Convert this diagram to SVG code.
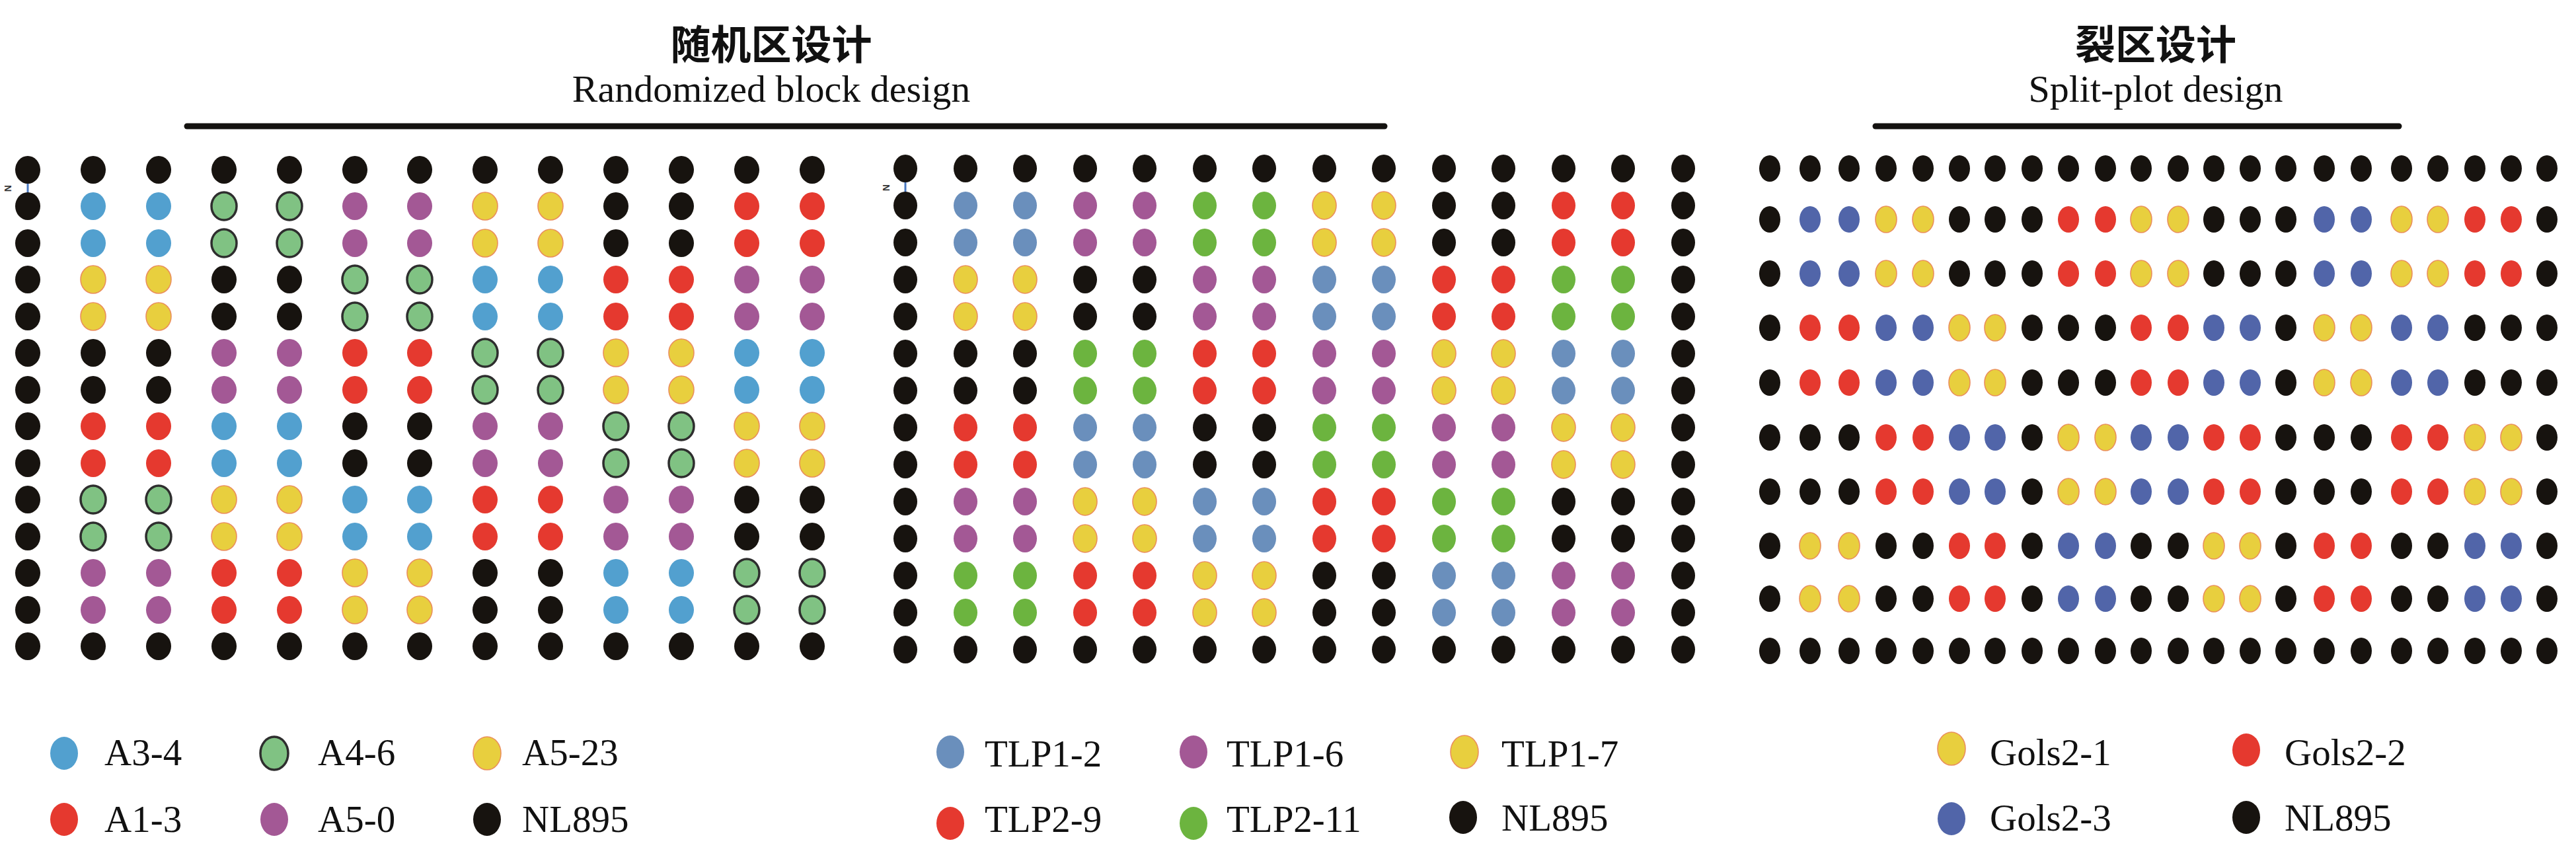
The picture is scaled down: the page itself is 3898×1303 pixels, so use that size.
<svg xmlns="http://www.w3.org/2000/svg" width="3898" height="1303" viewBox="0 0 3898 1303">
<style>
.k{fill:#17130f}
.b{fill:#52a0cf}
.g{fill:#80c283;stroke:#2e2e2e;stroke-width:3.5}
.y{fill:#e8cf3e;stroke:#ea8f5c;stroke-width:1.6}
.r{fill:#e5392f}
.p{fill:#a35895}
.s{fill:#6a8fbc}
.lg{fill:#6cb43f}
.u{fill:#5165a9}
#gridA ellipse{rx:19px;ry:21px}
#gridB ellipse{rx:18px;ry:21px}
#gridC ellipse{rx:16px;ry:20px}
.leg ellipse{rx:21px;ry:25px}
.zh{font-family:"Noto Sans CJK SC","Noto Sans CJK JP",sans-serif;font-size:61px;font-weight:bold;fill:#111;text-anchor:middle}
.en{font-family:"Liberation Serif","Times New Roman",serif;font-size:58px;fill:#111;text-anchor:middle}
.lt{font-family:"Liberation Serif","Times New Roman",serif;font-size:57px;fill:#111}
.bar{stroke:#141210;stroke-width:9;stroke-linecap:round}
.nl{stroke:#4a78c0;stroke-width:3}
.nt{font-family:"Liberation Sans",Arial,sans-serif;font-size:14px;font-weight:bold;fill:#333}
</style>

<g id="title-randomized">
<text class="zh" x="1167" y="90">随机区设计</text>
<text class="en" x="1167" y="154">Randomized block design</text>
<line class="bar" x1="283" y1="191" x2="2095" y2="191"/>
</g>
<g id="title-splitplot">
<text class="zh" x="3262" y="90">裂区设计</text>
<text class="en" x="3262" y="154">Split-plot design</text>
<line class="bar" x1="2838" y1="191" x2="3630" y2="191"/>
</g>

<g id="north-markers">
<line class="nl" x1="42" y1="276" x2="42" y2="292"/>
<text class="nt" x="0" y="0" transform="translate(7,280) rotate(90)">N</text>
<line class="nl" x1="1370" y1="275" x2="1370" y2="291"/>
<text class="nt" x="0" y="0" transform="translate(1336,279) rotate(90)">N</text>
</g>

<g id="gridA">
<ellipse class="k" cx="42" cy="257"/><ellipse class="k" cx="141" cy="257"/><ellipse class="k" cx="240" cy="257"/><ellipse class="k" cx="339" cy="257"/><ellipse class="k" cx="438" cy="257"/><ellipse class="k" cx="537" cy="257"/><ellipse class="k" cx="635" cy="257"/><ellipse class="k" cx="734" cy="257"/><ellipse class="k" cx="833" cy="257"/><ellipse class="k" cx="932" cy="257"/><ellipse class="k" cx="1031" cy="257"/><ellipse class="k" cx="1130" cy="257"/><ellipse class="k" cx="1229" cy="257"/>
<ellipse class="k" cx="42" cy="312"/><ellipse class="b" cx="141" cy="312"/><ellipse class="b" cx="240" cy="312"/><ellipse class="g" cx="339" cy="312"/><ellipse class="g" cx="438" cy="312"/><ellipse class="p" cx="537" cy="312"/><ellipse class="p" cx="635" cy="312"/><ellipse class="y" cx="734" cy="312"/><ellipse class="y" cx="833" cy="312"/><ellipse class="k" cx="932" cy="312"/><ellipse class="k" cx="1031" cy="312"/><ellipse class="r" cx="1130" cy="312"/><ellipse class="r" cx="1229" cy="312"/>
<ellipse class="k" cx="42" cy="368"/><ellipse class="b" cx="141" cy="368"/><ellipse class="b" cx="240" cy="368"/><ellipse class="g" cx="339" cy="368"/><ellipse class="g" cx="438" cy="368"/><ellipse class="p" cx="537" cy="368"/><ellipse class="p" cx="635" cy="368"/><ellipse class="y" cx="734" cy="368"/><ellipse class="y" cx="833" cy="368"/><ellipse class="k" cx="932" cy="368"/><ellipse class="k" cx="1031" cy="368"/><ellipse class="r" cx="1130" cy="368"/><ellipse class="r" cx="1229" cy="368"/>
<ellipse class="k" cx="42" cy="423"/><ellipse class="y" cx="141" cy="423"/><ellipse class="y" cx="240" cy="423"/><ellipse class="k" cx="339" cy="423"/><ellipse class="k" cx="438" cy="423"/><ellipse class="g" cx="537" cy="423"/><ellipse class="g" cx="635" cy="423"/><ellipse class="b" cx="734" cy="423"/><ellipse class="b" cx="833" cy="423"/><ellipse class="r" cx="932" cy="423"/><ellipse class="r" cx="1031" cy="423"/><ellipse class="p" cx="1130" cy="423"/><ellipse class="p" cx="1229" cy="423"/>
<ellipse class="k" cx="42" cy="479"/><ellipse class="y" cx="141" cy="479"/><ellipse class="y" cx="240" cy="479"/><ellipse class="k" cx="339" cy="479"/><ellipse class="k" cx="438" cy="479"/><ellipse class="g" cx="537" cy="479"/><ellipse class="g" cx="635" cy="479"/><ellipse class="b" cx="734" cy="479"/><ellipse class="b" cx="833" cy="479"/><ellipse class="r" cx="932" cy="479"/><ellipse class="r" cx="1031" cy="479"/><ellipse class="p" cx="1130" cy="479"/><ellipse class="p" cx="1229" cy="479"/>
<ellipse class="k" cx="42" cy="534"/><ellipse class="k" cx="141" cy="534"/><ellipse class="k" cx="240" cy="534"/><ellipse class="p" cx="339" cy="534"/><ellipse class="p" cx="438" cy="534"/><ellipse class="r" cx="537" cy="534"/><ellipse class="r" cx="635" cy="534"/><ellipse class="g" cx="734" cy="534"/><ellipse class="g" cx="833" cy="534"/><ellipse class="y" cx="932" cy="534"/><ellipse class="y" cx="1031" cy="534"/><ellipse class="b" cx="1130" cy="534"/><ellipse class="b" cx="1229" cy="534"/>
<ellipse class="k" cx="42" cy="590"/><ellipse class="k" cx="141" cy="590"/><ellipse class="k" cx="240" cy="590"/><ellipse class="p" cx="339" cy="590"/><ellipse class="p" cx="438" cy="590"/><ellipse class="r" cx="537" cy="590"/><ellipse class="r" cx="635" cy="590"/><ellipse class="g" cx="734" cy="590"/><ellipse class="g" cx="833" cy="590"/><ellipse class="y" cx="932" cy="590"/><ellipse class="y" cx="1031" cy="590"/><ellipse class="b" cx="1130" cy="590"/><ellipse class="b" cx="1229" cy="590"/>
<ellipse class="k" cx="42" cy="645"/><ellipse class="r" cx="141" cy="645"/><ellipse class="r" cx="240" cy="645"/><ellipse class="b" cx="339" cy="645"/><ellipse class="b" cx="438" cy="645"/><ellipse class="k" cx="537" cy="645"/><ellipse class="k" cx="635" cy="645"/><ellipse class="p" cx="734" cy="645"/><ellipse class="p" cx="833" cy="645"/><ellipse class="g" cx="932" cy="645"/><ellipse class="g" cx="1031" cy="645"/><ellipse class="y" cx="1130" cy="645"/><ellipse class="y" cx="1229" cy="645"/>
<ellipse class="k" cx="42" cy="701"/><ellipse class="r" cx="141" cy="701"/><ellipse class="r" cx="240" cy="701"/><ellipse class="b" cx="339" cy="701"/><ellipse class="b" cx="438" cy="701"/><ellipse class="k" cx="537" cy="701"/><ellipse class="k" cx="635" cy="701"/><ellipse class="p" cx="734" cy="701"/><ellipse class="p" cx="833" cy="701"/><ellipse class="g" cx="932" cy="701"/><ellipse class="g" cx="1031" cy="701"/><ellipse class="y" cx="1130" cy="701"/><ellipse class="y" cx="1229" cy="701"/>
<ellipse class="k" cx="42" cy="756"/><ellipse class="g" cx="141" cy="756"/><ellipse class="g" cx="240" cy="756"/><ellipse class="y" cx="339" cy="756"/><ellipse class="y" cx="438" cy="756"/><ellipse class="b" cx="537" cy="756"/><ellipse class="b" cx="635" cy="756"/><ellipse class="r" cx="734" cy="756"/><ellipse class="r" cx="833" cy="756"/><ellipse class="p" cx="932" cy="756"/><ellipse class="p" cx="1031" cy="756"/><ellipse class="k" cx="1130" cy="756"/><ellipse class="k" cx="1229" cy="756"/>
<ellipse class="k" cx="42" cy="812"/><ellipse class="g" cx="141" cy="812"/><ellipse class="g" cx="240" cy="812"/><ellipse class="y" cx="339" cy="812"/><ellipse class="y" cx="438" cy="812"/><ellipse class="b" cx="537" cy="812"/><ellipse class="b" cx="635" cy="812"/><ellipse class="r" cx="734" cy="812"/><ellipse class="r" cx="833" cy="812"/><ellipse class="p" cx="932" cy="812"/><ellipse class="p" cx="1031" cy="812"/><ellipse class="k" cx="1130" cy="812"/><ellipse class="k" cx="1229" cy="812"/>
<ellipse class="k" cx="42" cy="867"/><ellipse class="p" cx="141" cy="867"/><ellipse class="p" cx="240" cy="867"/><ellipse class="r" cx="339" cy="867"/><ellipse class="r" cx="438" cy="867"/><ellipse class="y" cx="537" cy="867"/><ellipse class="y" cx="635" cy="867"/><ellipse class="k" cx="734" cy="867"/><ellipse class="k" cx="833" cy="867"/><ellipse class="b" cx="932" cy="867"/><ellipse class="b" cx="1031" cy="867"/><ellipse class="g" cx="1130" cy="867"/><ellipse class="g" cx="1229" cy="867"/>
<ellipse class="k" cx="42" cy="923"/><ellipse class="p" cx="141" cy="923"/><ellipse class="p" cx="240" cy="923"/><ellipse class="r" cx="339" cy="923"/><ellipse class="r" cx="438" cy="923"/><ellipse class="y" cx="537" cy="923"/><ellipse class="y" cx="635" cy="923"/><ellipse class="k" cx="734" cy="923"/><ellipse class="k" cx="833" cy="923"/><ellipse class="b" cx="932" cy="923"/><ellipse class="b" cx="1031" cy="923"/><ellipse class="g" cx="1130" cy="923"/><ellipse class="g" cx="1229" cy="923"/>
<ellipse class="k" cx="42" cy="978"/><ellipse class="k" cx="141" cy="978"/><ellipse class="k" cx="240" cy="978"/><ellipse class="k" cx="339" cy="978"/><ellipse class="k" cx="438" cy="978"/><ellipse class="k" cx="537" cy="978"/><ellipse class="k" cx="635" cy="978"/><ellipse class="k" cx="734" cy="978"/><ellipse class="k" cx="833" cy="978"/><ellipse class="k" cx="932" cy="978"/><ellipse class="k" cx="1031" cy="978"/><ellipse class="k" cx="1130" cy="978"/><ellipse class="k" cx="1229" cy="978"/>
</g>

<g id="gridB">
<ellipse class="k" cx="1370" cy="255"/><ellipse class="k" cx="1461" cy="255"/><ellipse class="k" cx="1551" cy="255"/><ellipse class="k" cx="1642" cy="255"/><ellipse class="k" cx="1732" cy="255"/><ellipse class="k" cx="1823" cy="255"/><ellipse class="k" cx="1913" cy="255"/><ellipse class="k" cx="2004" cy="255"/><ellipse class="k" cx="2094" cy="255"/><ellipse class="k" cx="2185" cy="255"/><ellipse class="k" cx="2275" cy="255"/><ellipse class="k" cx="2366" cy="255"/><ellipse class="k" cx="2456" cy="255"/><ellipse class="k" cx="2547" cy="255"/>
<ellipse class="k" cx="1370" cy="311"/><ellipse class="s" cx="1461" cy="311"/><ellipse class="s" cx="1551" cy="311"/><ellipse class="p" cx="1642" cy="311"/><ellipse class="p" cx="1732" cy="311"/><ellipse class="lg" cx="1823" cy="311"/><ellipse class="lg" cx="1913" cy="311"/><ellipse class="y" cx="2004" cy="311"/><ellipse class="y" cx="2094" cy="311"/><ellipse class="k" cx="2185" cy="311"/><ellipse class="k" cx="2275" cy="311"/><ellipse class="r" cx="2366" cy="311"/><ellipse class="r" cx="2456" cy="311"/><ellipse class="k" cx="2547" cy="311"/>
<ellipse class="k" cx="1370" cy="367"/><ellipse class="s" cx="1461" cy="367"/><ellipse class="s" cx="1551" cy="367"/><ellipse class="p" cx="1642" cy="367"/><ellipse class="p" cx="1732" cy="367"/><ellipse class="lg" cx="1823" cy="367"/><ellipse class="lg" cx="1913" cy="367"/><ellipse class="y" cx="2004" cy="367"/><ellipse class="y" cx="2094" cy="367"/><ellipse class="k" cx="2185" cy="367"/><ellipse class="k" cx="2275" cy="367"/><ellipse class="r" cx="2366" cy="367"/><ellipse class="r" cx="2456" cy="367"/><ellipse class="k" cx="2547" cy="367"/>
<ellipse class="k" cx="1370" cy="423"/><ellipse class="y" cx="1461" cy="423"/><ellipse class="y" cx="1551" cy="423"/><ellipse class="k" cx="1642" cy="423"/><ellipse class="k" cx="1732" cy="423"/><ellipse class="p" cx="1823" cy="423"/><ellipse class="p" cx="1913" cy="423"/><ellipse class="s" cx="2004" cy="423"/><ellipse class="s" cx="2094" cy="423"/><ellipse class="r" cx="2185" cy="423"/><ellipse class="r" cx="2275" cy="423"/><ellipse class="lg" cx="2366" cy="423"/><ellipse class="lg" cx="2456" cy="423"/><ellipse class="k" cx="2547" cy="423"/>
<ellipse class="k" cx="1370" cy="479"/><ellipse class="y" cx="1461" cy="479"/><ellipse class="y" cx="1551" cy="479"/><ellipse class="k" cx="1642" cy="479"/><ellipse class="k" cx="1732" cy="479"/><ellipse class="p" cx="1823" cy="479"/><ellipse class="p" cx="1913" cy="479"/><ellipse class="s" cx="2004" cy="479"/><ellipse class="s" cx="2094" cy="479"/><ellipse class="r" cx="2185" cy="479"/><ellipse class="r" cx="2275" cy="479"/><ellipse class="lg" cx="2366" cy="479"/><ellipse class="lg" cx="2456" cy="479"/><ellipse class="k" cx="2547" cy="479"/>
<ellipse class="k" cx="1370" cy="535"/><ellipse class="k" cx="1461" cy="535"/><ellipse class="k" cx="1551" cy="535"/><ellipse class="lg" cx="1642" cy="535"/><ellipse class="lg" cx="1732" cy="535"/><ellipse class="r" cx="1823" cy="535"/><ellipse class="r" cx="1913" cy="535"/><ellipse class="p" cx="2004" cy="535"/><ellipse class="p" cx="2094" cy="535"/><ellipse class="y" cx="2185" cy="535"/><ellipse class="y" cx="2275" cy="535"/><ellipse class="s" cx="2366" cy="535"/><ellipse class="s" cx="2456" cy="535"/><ellipse class="k" cx="2547" cy="535"/>
<ellipse class="k" cx="1370" cy="591"/><ellipse class="k" cx="1461" cy="591"/><ellipse class="k" cx="1551" cy="591"/><ellipse class="lg" cx="1642" cy="591"/><ellipse class="lg" cx="1732" cy="591"/><ellipse class="r" cx="1823" cy="591"/><ellipse class="r" cx="1913" cy="591"/><ellipse class="p" cx="2004" cy="591"/><ellipse class="p" cx="2094" cy="591"/><ellipse class="y" cx="2185" cy="591"/><ellipse class="y" cx="2275" cy="591"/><ellipse class="s" cx="2366" cy="591"/><ellipse class="s" cx="2456" cy="591"/><ellipse class="k" cx="2547" cy="591"/>
<ellipse class="k" cx="1370" cy="647"/><ellipse class="r" cx="1461" cy="647"/><ellipse class="r" cx="1551" cy="647"/><ellipse class="s" cx="1642" cy="647"/><ellipse class="s" cx="1732" cy="647"/><ellipse class="k" cx="1823" cy="647"/><ellipse class="k" cx="1913" cy="647"/><ellipse class="lg" cx="2004" cy="647"/><ellipse class="lg" cx="2094" cy="647"/><ellipse class="p" cx="2185" cy="647"/><ellipse class="p" cx="2275" cy="647"/><ellipse class="y" cx="2366" cy="647"/><ellipse class="y" cx="2456" cy="647"/><ellipse class="k" cx="2547" cy="647"/>
<ellipse class="k" cx="1370" cy="703"/><ellipse class="r" cx="1461" cy="703"/><ellipse class="r" cx="1551" cy="703"/><ellipse class="s" cx="1642" cy="703"/><ellipse class="s" cx="1732" cy="703"/><ellipse class="k" cx="1823" cy="703"/><ellipse class="k" cx="1913" cy="703"/><ellipse class="lg" cx="2004" cy="703"/><ellipse class="lg" cx="2094" cy="703"/><ellipse class="p" cx="2185" cy="703"/><ellipse class="p" cx="2275" cy="703"/><ellipse class="y" cx="2366" cy="703"/><ellipse class="y" cx="2456" cy="703"/><ellipse class="k" cx="2547" cy="703"/>
<ellipse class="k" cx="1370" cy="759"/><ellipse class="p" cx="1461" cy="759"/><ellipse class="p" cx="1551" cy="759"/><ellipse class="y" cx="1642" cy="759"/><ellipse class="y" cx="1732" cy="759"/><ellipse class="s" cx="1823" cy="759"/><ellipse class="s" cx="1913" cy="759"/><ellipse class="r" cx="2004" cy="759"/><ellipse class="r" cx="2094" cy="759"/><ellipse class="lg" cx="2185" cy="759"/><ellipse class="lg" cx="2275" cy="759"/><ellipse class="k" cx="2366" cy="759"/><ellipse class="k" cx="2456" cy="759"/><ellipse class="k" cx="2547" cy="759"/>
<ellipse class="k" cx="1370" cy="815"/><ellipse class="p" cx="1461" cy="815"/><ellipse class="p" cx="1551" cy="815"/><ellipse class="y" cx="1642" cy="815"/><ellipse class="y" cx="1732" cy="815"/><ellipse class="s" cx="1823" cy="815"/><ellipse class="s" cx="1913" cy="815"/><ellipse class="r" cx="2004" cy="815"/><ellipse class="r" cx="2094" cy="815"/><ellipse class="lg" cx="2185" cy="815"/><ellipse class="lg" cx="2275" cy="815"/><ellipse class="k" cx="2366" cy="815"/><ellipse class="k" cx="2456" cy="815"/><ellipse class="k" cx="2547" cy="815"/>
<ellipse class="k" cx="1370" cy="871"/><ellipse class="lg" cx="1461" cy="871"/><ellipse class="lg" cx="1551" cy="871"/><ellipse class="r" cx="1642" cy="871"/><ellipse class="r" cx="1732" cy="871"/><ellipse class="y" cx="1823" cy="871"/><ellipse class="y" cx="1913" cy="871"/><ellipse class="k" cx="2004" cy="871"/><ellipse class="k" cx="2094" cy="871"/><ellipse class="s" cx="2185" cy="871"/><ellipse class="s" cx="2275" cy="871"/><ellipse class="p" cx="2366" cy="871"/><ellipse class="p" cx="2456" cy="871"/><ellipse class="k" cx="2547" cy="871"/>
<ellipse class="k" cx="1370" cy="927"/><ellipse class="lg" cx="1461" cy="927"/><ellipse class="lg" cx="1551" cy="927"/><ellipse class="r" cx="1642" cy="927"/><ellipse class="r" cx="1732" cy="927"/><ellipse class="y" cx="1823" cy="927"/><ellipse class="y" cx="1913" cy="927"/><ellipse class="k" cx="2004" cy="927"/><ellipse class="k" cx="2094" cy="927"/><ellipse class="s" cx="2185" cy="927"/><ellipse class="s" cx="2275" cy="927"/><ellipse class="p" cx="2366" cy="927"/><ellipse class="p" cx="2456" cy="927"/><ellipse class="k" cx="2547" cy="927"/>
<ellipse class="k" cx="1370" cy="983"/><ellipse class="k" cx="1461" cy="983"/><ellipse class="k" cx="1551" cy="983"/><ellipse class="k" cx="1642" cy="983"/><ellipse class="k" cx="1732" cy="983"/><ellipse class="k" cx="1823" cy="983"/><ellipse class="k" cx="1913" cy="983"/><ellipse class="k" cx="2004" cy="983"/><ellipse class="k" cx="2094" cy="983"/><ellipse class="k" cx="2185" cy="983"/><ellipse class="k" cx="2275" cy="983"/><ellipse class="k" cx="2366" cy="983"/><ellipse class="k" cx="2456" cy="983"/><ellipse class="k" cx="2547" cy="983"/>
</g>

<g id="gridC">
<ellipse class="k" cx="2678" cy="255"/><ellipse class="k" cx="2739" cy="255"/><ellipse class="k" cx="2798" cy="255"/><ellipse class="k" cx="2854" cy="255"/><ellipse class="k" cx="2910" cy="255"/><ellipse class="k" cx="2965" cy="255"/><ellipse class="k" cx="3019" cy="255"/><ellipse class="k" cx="3075" cy="255"/><ellipse class="k" cx="3130" cy="255"/><ellipse class="k" cx="3186" cy="255"/><ellipse class="k" cx="3240" cy="255"/><ellipse class="k" cx="3296" cy="255"/><ellipse class="k" cx="3350" cy="255"/><ellipse class="k" cx="3405" cy="255"/><ellipse class="k" cx="3459" cy="255"/><ellipse class="k" cx="3517" cy="255"/><ellipse class="k" cx="3573" cy="255"/><ellipse class="k" cx="3634" cy="255"/><ellipse class="k" cx="3689" cy="255"/><ellipse class="k" cx="3745" cy="255"/><ellipse class="k" cx="3800" cy="255"/><ellipse class="k" cx="3854" cy="255"/>
<ellipse class="k" cx="2678" cy="332"/><ellipse class="u" cx="2739" cy="332"/><ellipse class="u" cx="2798" cy="332"/><ellipse class="y" cx="2854" cy="332"/><ellipse class="y" cx="2910" cy="332"/><ellipse class="k" cx="2965" cy="332"/><ellipse class="k" cx="3019" cy="332"/><ellipse class="k" cx="3075" cy="332"/><ellipse class="r" cx="3130" cy="332"/><ellipse class="r" cx="3186" cy="332"/><ellipse class="y" cx="3240" cy="332"/><ellipse class="y" cx="3296" cy="332"/><ellipse class="k" cx="3350" cy="332"/><ellipse class="k" cx="3405" cy="332"/><ellipse class="k" cx="3459" cy="332"/><ellipse class="u" cx="3517" cy="332"/><ellipse class="u" cx="3573" cy="332"/><ellipse class="y" cx="3634" cy="332"/><ellipse class="y" cx="3689" cy="332"/><ellipse class="r" cx="3745" cy="332"/><ellipse class="r" cx="3800" cy="332"/><ellipse class="k" cx="3854" cy="332"/>
<ellipse class="k" cx="2678" cy="414"/><ellipse class="u" cx="2739" cy="414"/><ellipse class="u" cx="2798" cy="414"/><ellipse class="y" cx="2854" cy="414"/><ellipse class="y" cx="2910" cy="414"/><ellipse class="k" cx="2965" cy="414"/><ellipse class="k" cx="3019" cy="414"/><ellipse class="k" cx="3075" cy="414"/><ellipse class="r" cx="3130" cy="414"/><ellipse class="r" cx="3186" cy="414"/><ellipse class="y" cx="3240" cy="414"/><ellipse class="y" cx="3296" cy="414"/><ellipse class="k" cx="3350" cy="414"/><ellipse class="k" cx="3405" cy="414"/><ellipse class="k" cx="3459" cy="414"/><ellipse class="u" cx="3517" cy="414"/><ellipse class="u" cx="3573" cy="414"/><ellipse class="y" cx="3634" cy="414"/><ellipse class="y" cx="3689" cy="414"/><ellipse class="r" cx="3745" cy="414"/><ellipse class="r" cx="3800" cy="414"/><ellipse class="k" cx="3854" cy="414"/>
<ellipse class="k" cx="2678" cy="496"/><ellipse class="r" cx="2739" cy="496"/><ellipse class="r" cx="2798" cy="496"/><ellipse class="u" cx="2854" cy="496"/><ellipse class="u" cx="2910" cy="496"/><ellipse class="y" cx="2965" cy="496"/><ellipse class="y" cx="3019" cy="496"/><ellipse class="k" cx="3075" cy="496"/><ellipse class="k" cx="3130" cy="496"/><ellipse class="k" cx="3186" cy="496"/><ellipse class="r" cx="3240" cy="496"/><ellipse class="r" cx="3296" cy="496"/><ellipse class="u" cx="3350" cy="496"/><ellipse class="u" cx="3405" cy="496"/><ellipse class="k" cx="3459" cy="496"/><ellipse class="y" cx="3517" cy="496"/><ellipse class="y" cx="3573" cy="496"/><ellipse class="u" cx="3634" cy="496"/><ellipse class="u" cx="3689" cy="496"/><ellipse class="k" cx="3745" cy="496"/><ellipse class="k" cx="3800" cy="496"/><ellipse class="k" cx="3854" cy="496"/>
<ellipse class="k" cx="2678" cy="579"/><ellipse class="r" cx="2739" cy="579"/><ellipse class="r" cx="2798" cy="579"/><ellipse class="u" cx="2854" cy="579"/><ellipse class="u" cx="2910" cy="579"/><ellipse class="y" cx="2965" cy="579"/><ellipse class="y" cx="3019" cy="579"/><ellipse class="k" cx="3075" cy="579"/><ellipse class="k" cx="3130" cy="579"/><ellipse class="k" cx="3186" cy="579"/><ellipse class="r" cx="3240" cy="579"/><ellipse class="r" cx="3296" cy="579"/><ellipse class="u" cx="3350" cy="579"/><ellipse class="u" cx="3405" cy="579"/><ellipse class="k" cx="3459" cy="579"/><ellipse class="y" cx="3517" cy="579"/><ellipse class="y" cx="3573" cy="579"/><ellipse class="u" cx="3634" cy="579"/><ellipse class="u" cx="3689" cy="579"/><ellipse class="k" cx="3745" cy="579"/><ellipse class="k" cx="3800" cy="579"/><ellipse class="k" cx="3854" cy="579"/>
<ellipse class="k" cx="2678" cy="662"/><ellipse class="k" cx="2739" cy="662"/><ellipse class="k" cx="2798" cy="662"/><ellipse class="r" cx="2854" cy="662"/><ellipse class="r" cx="2910" cy="662"/><ellipse class="u" cx="2965" cy="662"/><ellipse class="u" cx="3019" cy="662"/><ellipse class="k" cx="3075" cy="662"/><ellipse class="y" cx="3130" cy="662"/><ellipse class="y" cx="3186" cy="662"/><ellipse class="u" cx="3240" cy="662"/><ellipse class="u" cx="3296" cy="662"/><ellipse class="r" cx="3350" cy="662"/><ellipse class="r" cx="3405" cy="662"/><ellipse class="k" cx="3459" cy="662"/><ellipse class="k" cx="3517" cy="662"/><ellipse class="k" cx="3573" cy="662"/><ellipse class="r" cx="3634" cy="662"/><ellipse class="r" cx="3689" cy="662"/><ellipse class="y" cx="3745" cy="662"/><ellipse class="y" cx="3800" cy="662"/><ellipse class="k" cx="3854" cy="662"/>
<ellipse class="k" cx="2678" cy="744"/><ellipse class="k" cx="2739" cy="744"/><ellipse class="k" cx="2798" cy="744"/><ellipse class="r" cx="2854" cy="744"/><ellipse class="r" cx="2910" cy="744"/><ellipse class="u" cx="2965" cy="744"/><ellipse class="u" cx="3019" cy="744"/><ellipse class="k" cx="3075" cy="744"/><ellipse class="y" cx="3130" cy="744"/><ellipse class="y" cx="3186" cy="744"/><ellipse class="u" cx="3240" cy="744"/><ellipse class="u" cx="3296" cy="744"/><ellipse class="r" cx="3350" cy="744"/><ellipse class="r" cx="3405" cy="744"/><ellipse class="k" cx="3459" cy="744"/><ellipse class="k" cx="3517" cy="744"/><ellipse class="k" cx="3573" cy="744"/><ellipse class="r" cx="3634" cy="744"/><ellipse class="r" cx="3689" cy="744"/><ellipse class="y" cx="3745" cy="744"/><ellipse class="y" cx="3800" cy="744"/><ellipse class="k" cx="3854" cy="744"/>
<ellipse class="k" cx="2678" cy="826"/><ellipse class="y" cx="2739" cy="826"/><ellipse class="y" cx="2798" cy="826"/><ellipse class="k" cx="2854" cy="826"/><ellipse class="k" cx="2910" cy="826"/><ellipse class="r" cx="2965" cy="826"/><ellipse class="r" cx="3019" cy="826"/><ellipse class="k" cx="3075" cy="826"/><ellipse class="u" cx="3130" cy="826"/><ellipse class="u" cx="3186" cy="826"/><ellipse class="k" cx="3240" cy="826"/><ellipse class="k" cx="3296" cy="826"/><ellipse class="y" cx="3350" cy="826"/><ellipse class="y" cx="3405" cy="826"/><ellipse class="k" cx="3459" cy="826"/><ellipse class="r" cx="3517" cy="826"/><ellipse class="r" cx="3573" cy="826"/><ellipse class="k" cx="3634" cy="826"/><ellipse class="k" cx="3689" cy="826"/><ellipse class="u" cx="3745" cy="826"/><ellipse class="u" cx="3800" cy="826"/><ellipse class="k" cx="3854" cy="826"/>
<ellipse class="k" cx="2678" cy="906"/><ellipse class="y" cx="2739" cy="906"/><ellipse class="y" cx="2798" cy="906"/><ellipse class="k" cx="2854" cy="906"/><ellipse class="k" cx="2910" cy="906"/><ellipse class="r" cx="2965" cy="906"/><ellipse class="r" cx="3019" cy="906"/><ellipse class="k" cx="3075" cy="906"/><ellipse class="u" cx="3130" cy="906"/><ellipse class="u" cx="3186" cy="906"/><ellipse class="k" cx="3240" cy="906"/><ellipse class="k" cx="3296" cy="906"/><ellipse class="y" cx="3350" cy="906"/><ellipse class="y" cx="3405" cy="906"/><ellipse class="k" cx="3459" cy="906"/><ellipse class="r" cx="3517" cy="906"/><ellipse class="r" cx="3573" cy="906"/><ellipse class="k" cx="3634" cy="906"/><ellipse class="k" cx="3689" cy="906"/><ellipse class="u" cx="3745" cy="906"/><ellipse class="u" cx="3800" cy="906"/><ellipse class="k" cx="3854" cy="906"/>
<ellipse class="k" cx="2678" cy="985"/><ellipse class="k" cx="2739" cy="985"/><ellipse class="k" cx="2798" cy="985"/><ellipse class="k" cx="2854" cy="985"/><ellipse class="k" cx="2910" cy="985"/><ellipse class="k" cx="2965" cy="985"/><ellipse class="k" cx="3019" cy="985"/><ellipse class="k" cx="3075" cy="985"/><ellipse class="k" cx="3130" cy="985"/><ellipse class="k" cx="3186" cy="985"/><ellipse class="k" cx="3240" cy="985"/><ellipse class="k" cx="3296" cy="985"/><ellipse class="k" cx="3350" cy="985"/><ellipse class="k" cx="3405" cy="985"/><ellipse class="k" cx="3459" cy="985"/><ellipse class="k" cx="3517" cy="985"/><ellipse class="k" cx="3573" cy="985"/><ellipse class="k" cx="3634" cy="985"/><ellipse class="k" cx="3689" cy="985"/><ellipse class="k" cx="3745" cy="985"/><ellipse class="k" cx="3800" cy="985"/><ellipse class="k" cx="3854" cy="985"/>
</g>

<g id="legendA" class="leg">
<g id="leg-A3-4"><ellipse class="b" cx="97" cy="1140"/><text class="lt" x="158" y="1158">A3-4</text></g>
<g id="leg-A4-6"><ellipse class="g" cx="415" cy="1140"/><text class="lt" x="481" y="1158">A4-6</text></g>
<g id="leg-A5-23"><ellipse class="y" cx="737" cy="1140"/><text class="lt" x="790" y="1158">A5-23</text></g>
<g id="leg-A1-3"><ellipse class="r" cx="97" cy="1240"/><text class="lt" x="158" y="1259">A1-3</text></g>
<g id="leg-A5-0"><ellipse class="p" cx="415" cy="1240"/><text class="lt" x="481" y="1259">A5-0</text></g>
<g id="leg-A-NL895"><ellipse class="k" cx="737" cy="1240"/><text class="lt" x="790" y="1259">NL895</text></g>
</g>

<g id="legendB" class="leg">
<g id="leg-TLP1-2"><ellipse class="s" cx="1438" cy="1138"/><text class="lt" x="1490" y="1160">TLP1-2</text></g>
<g id="leg-TLP1-6"><ellipse class="p" cx="1806" cy="1138"/><text class="lt" x="1856" y="1160">TLP1-6</text></g>
<g id="leg-TLP1-7"><ellipse class="y" cx="2216" cy="1138"/><text class="lt" x="2272" y="1160">TLP1-7</text></g>
<g id="leg-TLP2-9"><ellipse class="r" cx="1438" cy="1246"/><text class="lt" x="1490" y="1259">TLP2-9</text></g>
<g id="leg-TLP2-11"><ellipse class="lg" cx="1806" cy="1246"/><text class="lt" x="1856" y="1259">TLP2-11</text></g>
<g id="leg-B-NL895"><ellipse class="k" cx="2214" cy="1237"/><text class="lt" x="2272" y="1257">NL895</text></g>
</g>

<g id="legendC" class="leg">
<g id="leg-Gols2-1"><ellipse class="y" cx="2953" cy="1133"/><text class="lt" x="3011" y="1158">Gols2-1</text></g>
<g id="leg-Gols2-2"><ellipse class="r" cx="3399" cy="1135"/><text class="lt" x="3457" y="1158">Gols2-2</text></g>
<g id="leg-Gols2-3"><ellipse class="u" cx="2953" cy="1239"/><text class="lt" x="3011" y="1257">Gols2-3</text></g>
<g id="leg-C-NL895"><ellipse class="k" cx="3399" cy="1237"/><text class="lt" x="3457" y="1257">NL895</text></g>
</g>
</svg>
